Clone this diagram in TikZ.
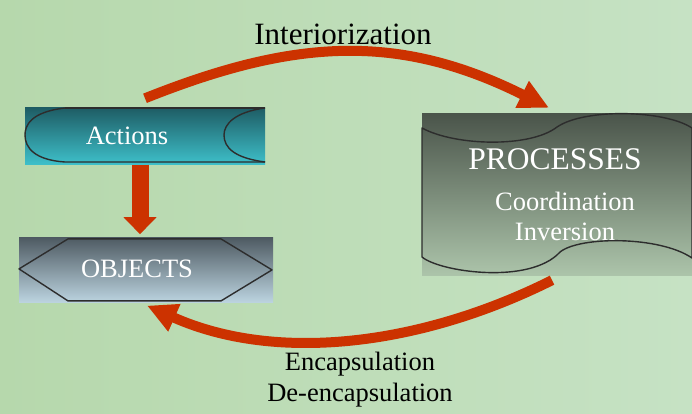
\documentclass[tikz,border=0pt]{standalone}
\usepackage{fontspec}
\setmainfont{Liberation Serif}
\usetikzlibrary{positioning, arrows.meta, calc}

\definecolor{bgleft}{RGB}{182,216,172}
\definecolor{bgright}{RGB}{198,226,196}
\definecolor{flowred}{RGB}{204,50,0}
\definecolor{acttop}{RGB}{30,92,100}
\definecolor{actbot}{RGB}{62,192,202}
\definecolor{objtop}{RGB}{78,90,98}
\definecolor{objbot}{RGB}{188,212,224}
\definecolor{proctop}{RGB}{74,84,74}
\definecolor{procbot}{RGB}{172,196,170}
\definecolor{edge}{RGB}{45,45,45}

\begin{document}
\begin{tikzpicture}[
    x=1pt, y=-1pt,
    box/.style={rectangle, draw=none, inner sep=0pt},
    outline/.style={draw=edge, line width=1.4pt, line join=round},
    lbl/.style={anchor=base, text=white, font=\fontsize{26.5}{30}\selectfont},
    caption/.style={anchor=base, text=black, font=\fontsize{26.5}{30}\selectfont},
    flow/.style={draw=flowred, line width=10pt, -{Triangle[length=30pt, width=28pt]}},
    drop/.style={draw=flowred, line width=17pt, -{Triangle[length=17pt, width=32pt]}}
]

% background
\fill[left color=bgleft, right color=bgright] (0,0) rectangle (692,413);
\useasboundingbox (0,0) rectangle (692,413);

% Boxes
\node[box, minimum width=240pt, minimum height=57pt, top color=acttop, bottom color=actbot] (actions) at (145,136) {};
\node[box, minimum width=254pt, minimum height=65pt, top color=objtop, bottom color=objbot,
      below=72.5pt of actions.south, anchor=north, xshift=1pt] (objects) {};
\node[box, minimum width=270pt, minimum height=162pt, top color=proctop, bottom color=procbot] (processes) at (557,194) {};

% Outlines
\begin{scope}[shift={(actions.center)}]
  \draw[outline] (-80,-28) -- (120,-28);
  \draw[outline] (-80,-28) .. controls (-115,-24) and (-120,-10) .. (-120,-1)
                 .. controls (-120,12) and (-110,24) .. (-80,26) -- (120,26);
  \draw[outline] (120,-28) .. controls (90,-24) and (79,-12) .. (79,-1)
                 .. controls (79,12) and (90,22) .. (120,26);
\end{scope}
\begin{scope}[shift={(objects.center)}]
  \draw[outline] (-78,-31) -- (75,-31) -- (126,0) -- (75,31) -- (-78,31) -- (-127,-1) -- cycle;
\end{scope}
\begin{scope}[shift={(processes.center)}]
  \draw[outline] (-135,-66) .. controls (-102,-48) and (-27,-46) .. (0,-67)
                 .. controls (28,-86) and (108,-84) .. (135,-66) -- (135,64)
                 .. controls (103,42) and (23,42) .. (3,58)
                 .. controls (-27,91) and (-117,78) .. (-135,63) -- cycle;
\end{scope}

% Texts
\node[lbl] (actlbl) at (127,144) {Actions};
\node[lbl] (objlbl) at (137,277) {OBJECTS};
\node[lbl, font=\fontsize{31.5}{36}\selectfont] (proclbl) at (555,169) {PROCESSES};
\node[lbl] (coordlbl) at (565,210) {Coordination};
\node[lbl] (invlbl) at (565,240) {Inversion};
\node[caption, font=\fontsize{31}{36}\selectfont] (intlbl) at (343,44) {Interiorization};
\node[caption] (enclbl) at (360,370) {Encapsulation};
\node[caption] (deenclbl) at (360,401) {De-encapsulation};

% Arrows
\draw[flow] ($(actions.north)+(0,-9)$) .. controls +(150,-60) and +(-150,-75) .. ($(processes.north)+(-8,-5)$);
\draw[flow] ($(processes.south)+(-5,5)$) .. controls +(-130,65) and +(130,58) .. ($(objects.south)+(1,3)$);
\draw[drop] ($(actions.south)+(-5,0)$) -- ($(objects.north)+(-6,-3)$);

\end{tikzpicture}
\end{document}
